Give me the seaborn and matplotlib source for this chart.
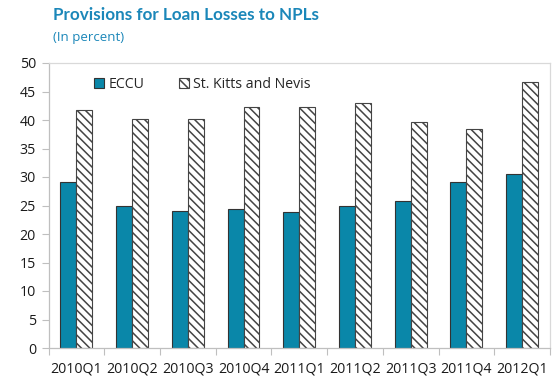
import matplotlib
matplotlib.use("Agg")
import matplotlib.pyplot as plt
import seaborn as sns
import pandas as pd
from matplotlib.patches import Patch

quarters = ["2010Q1", "2010Q2", "2010Q3", "2010Q4", "2011Q1",
            "2011Q2", "2011Q3", "2011Q4", "2012Q1"]
eccu = [29.2, 25.0, 24.1, 24.4, 23.8, 24.9, 25.8, 29.2, 30.6]
skn = [41.8, 40.2, 40.2, 42.3, 42.3, 42.9, 39.7, 38.5, 46.7]
series_names = ["ECCU", "St. Kitts and Nevis"]
y_ticks = [0, 5, 10, 15, 20, 25, 30, 35, 40, 45, 50]

TEAL = "#0a87a9"
BLUE_TITLE = "#1b87b9"
EDGE = "#333333"

sns.set_theme(style="white")
plt.rcParams["font.family"] = ["Open Sans", "DejaVu Sans"]
plt.rcParams["hatch.linewidth"] = 1.1
plt.rcParams["hatch.color"] = "#444444"

df = pd.DataFrame({
    "quarter": quarters * 2,
    "value": eccu + skn,
    "series": [series_names[0]] * len(quarters) + [series_names[1]] * len(quarters),
})

fig = plt.figure(figsize=(5.55, 3.81), dpi=100)
ax = fig.add_axes([48.5 / 555, 1 - 348 / 381, (550 - 48.5) / 555, (348 - 63) / 381])

sns.barplot(data=df, x="quarter", y="value", hue="series", order=quarters,
            hue_order=series_names, palette=[TEAL, "white"], saturation=1,
            width=0.572, edgecolor=EDGE, linewidth=0.8, legend=False, ax=ax)

# hatch the St. Kitts and Nevis bars
n = len(quarters)
for i, bar in enumerate(ax.patches[:2 * n]):
    if i >= n:
        bar.set_hatch("\\\\\\\\")
        bar.set_edgecolor("#444444")

ax.set_xlim(-0.5, n - 0.5)
ax.set_ylim(0, 50)
ax.set_yticks(y_ticks)
ax.set_xlabel("")
ax.set_ylabel("")

# category boundary ticks on the x axis
ax.set_xticks([i - 0.5 for i in range(n + 1)], minor=False)
ax.set_xticklabels([])
ax.set_xticks(range(n), minor=True)
ax.set_xticklabels(quarters, minor=True)
ax.tick_params(axis="x", which="major", direction="out", length=5, width=0.8,
               color="#bfbfbf", bottom=True)
ax.tick_params(axis="x", which="minor", length=0, labelsize=10.2, pad=10,
               labelcolor="#1a1a1a")
ax.tick_params(axis="y", direction="out", length=5, width=0.8, color="#bfbfbf",
               left=True, labelsize=10.2, labelcolor="#1a1a1a", pad=4)

for side in ["left", "bottom"]:
    ax.spines[side].set_color("#bfbfbf")
    ax.spines[side].set_linewidth(0.9)
for side in ["top", "right"]:
    ax.spines[side].set_color("#d9d9d9")
    ax.spines[side].set_linewidth(0.9)
ax.grid(False)

handles = [
    Patch(facecolor=TEAL, edgecolor=EDGE, linewidth=0.8, label=series_names[0]),
    Patch(facecolor="white", edgecolor="#444444", hatch="\\\\\\\\", linewidth=0.8,
          label=series_names[1]),
]
ax.legend(handles=handles, loc="upper left", bbox_to_anchor=(0.065, 0.995),
          ncol=2, frameon=False, fontsize=10.2, handlelength=0.7,
          handleheight=0.7, handletextpad=0.35, columnspacing=2.4)

fig.text(53 / 555, 1 - 15 / 381, "Provisions for Loan Losses to NPLs",
         color=BLUE_TITLE, fontsize=12.3, fontweight="bold", va="center",
         ha="left", family=["Lato", "DejaVu Sans"])
fig.text(53 / 555, 1 - 37 / 381, "(In percent)", color=BLUE_TITLE,
         fontsize=9.5, va="center", ha="left")

fig.savefig("out.png", dpi=100)
